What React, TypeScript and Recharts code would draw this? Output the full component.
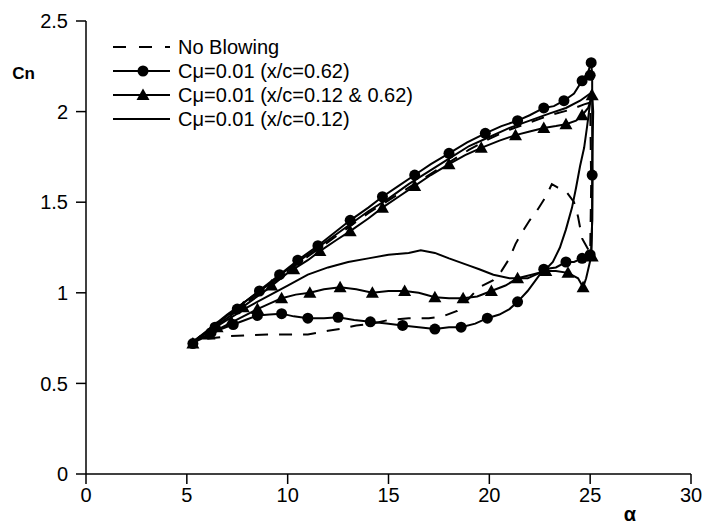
import { ComposedChart, Line, XAxis, YAxis } from 'recharts';

const xTicks = [0, 5, 10, 15, 20, 25, 30];
const yTicks = [0, 0.5, 1, 1.5, 2, 2.5];
const seriesNames = [
  'No Blowing',
  'Cμ=0.01 (x/c=0.62)',
  'Cμ=0.01 (x/c=0.12 & 0.62)',
  'Cμ=0.01 (x/c=0.12)',
];

// No Blowing (dashed) – upstroke then downstroke
const noBlowA = [5.2, 6.0, 7.0, 8.0, 9.0, 10.0, 11.0, 12.0, 13.0, 14.0, 15.0, 16.0, 17.0, 18.0, 19.0, 20.0, 21.0, 22.0, 23.0, 24.0, 24.7, 25.0,
  25.05, 25.0, 24.6, 24.4, 24.2, 23.8, 23.4, 23.1, 22.8, 22.4, 22.0, 21.6, 21.3, 21.0, 20.6, 20.2, 19.5, 19.0, 18.4, 17.7, 17.0, 16.0, 15.0, 14.2, 13.4, 12.6, 12.0, 11.0, 10.0, 9.0, 8.0, 7.0, 6.3, 5.6, 5.2];
const noBlowCn = [0.72, 0.79, 0.87, 0.95, 1.03, 1.12, 1.2, 1.28, 1.36, 1.44, 1.51, 1.58, 1.65, 1.72, 1.79, 1.85, 1.9, 1.94, 1.98, 2.01, 2.04, 2.05,
  1.6, 1.22, 1.3, 1.42, 1.5, 1.56, 1.58, 1.6, 1.53, 1.46, 1.4, 1.33, 1.27, 1.19, 1.12, 1.07, 1.03, 0.97, 0.9, 0.87, 0.86, 0.86, 0.85, 0.83, 0.82, 0.8, 0.79, 0.77, 0.77, 0.77, 0.765, 0.76, 0.75, 0.74, 0.72];

// Cmu=0.01 x/c=0.62 (circles)
const c62A = [5.2, 5.8, 6.5, 7.3, 8.0, 8.8, 9.6, 10.5, 11.5, 12.3, 13.1, 14.0, 14.7, 15.5, 16.3, 17.1, 18.0, 18.9, 19.8, 20.6, 21.4, 22.0, 22.7, 23.2, 23.7, 24.2, 24.6, 24.9, 25.05,
  25.1, 25.1, 25.12, 25.1, 25.05, 24.9, 24.6, 24.2, 23.8, 23.3, 22.7, 22.3, 21.9, 21.4, 21.0, 20.5, 19.9, 19.3, 18.6, 18.0, 17.3, 16.5, 15.7, 14.9, 14.1, 13.3, 12.5, 11.8, 11.0, 10.3, 9.7, 9.1, 8.5, 7.9, 7.3, 6.7, 6.1, 5.5, 5.2];
const c62Cn = [0.72, 0.77, 0.83, 0.9, 0.96, 1.03, 1.1, 1.18, 1.26, 1.33, 1.4, 1.47, 1.53, 1.59, 1.65, 1.71, 1.77, 1.83, 1.88, 1.92, 1.95, 1.98, 2.02, 2.03, 2.06, 2.1, 2.17, 2.22, 2.27,
  2.2, 1.9, 1.65, 1.4, 1.22, 1.2, 1.19, 1.17, 1.17, 1.14, 1.13, 1.07, 1.01, 0.95, 0.91, 0.88, 0.86, 0.83, 0.81, 0.81, 0.8, 0.81, 0.82, 0.83, 0.84, 0.85, 0.865, 0.86, 0.86, 0.87, 0.885, 0.88, 0.875, 0.85, 0.825, 0.8, 0.77, 0.74, 0.72];
const c62MarkA = [5.3, 6.4, 7.5, 8.6, 9.6, 10.5, 11.5, 13.1, 14.7, 16.3, 18.0, 19.8, 21.4, 22.7, 23.7, 24.6, 25.0, 25.05,
  25.1, 25.0, 24.6, 23.8, 22.7, 21.4, 19.9, 18.6, 17.3, 15.7, 14.1, 12.5, 11.0, 9.7, 8.5, 7.3, 6.2];
const c62MarkCn = [0.72, 0.81, 0.91, 1.01, 1.1, 1.18, 1.26, 1.4, 1.53, 1.65, 1.77, 1.88, 1.95, 2.02, 2.06, 2.17, 2.2, 2.27,
  1.65, 1.21, 1.19, 1.17, 1.13, 0.95, 0.86, 0.81, 0.8, 0.82, 0.84, 0.865, 0.86, 0.885, 0.875, 0.825, 0.78];

// Cmu=0.01 x/c=0.12 & 0.62 (triangles)
const c1262A = [5.2, 6.0, 7.0, 8.0, 9.0, 10.0, 11.0, 11.6, 12.4, 13.1, 14.0, 14.7, 15.5, 16.3, 17.1, 18.0, 18.8, 19.6, 20.5, 21.3, 22.0, 22.7, 23.3, 23.8, 24.3, 24.6, 24.9, 25.1,
  25.15, 25.1, 25.1, 25.05, 24.8, 24.65, 24.4, 23.9, 23.3, 22.8, 22.1, 21.4, 20.8, 20.1, 19.4, 18.7, 18.0, 17.3, 16.5, 15.8, 15.0, 14.2, 13.4, 12.6, 11.8, 11.1, 10.4, 9.7, 9.1, 8.5, 7.8, 7.1, 6.4, 5.8, 5.2];
const c1262Cn = [0.72, 0.78, 0.86, 0.94, 1.02, 1.11, 1.18, 1.23, 1.29, 1.34, 1.41, 1.47, 1.53, 1.59, 1.65, 1.71, 1.76, 1.8, 1.84, 1.87, 1.89, 1.91, 1.92, 1.93, 1.95, 1.98, 2.02, 2.09,
  2.0, 1.7, 1.4, 1.2, 1.08, 1.03, 1.08, 1.11, 1.12, 1.12, 1.1, 1.08, 1.04, 1.01, 0.98, 0.97, 0.97, 0.975, 1.0, 1.01, 1.01, 1.0, 1.02, 1.03, 1.02, 1.0, 0.99, 0.97, 0.94, 0.91, 0.87, 0.83, 0.79, 0.75, 0.72];
const c1262MarkA = [5.3, 6.5, 7.8, 9.2, 10.3, 11.6, 13.1, 14.7, 16.3, 18.0, 19.6, 21.3, 22.7, 23.8, 24.6, 25.1,
  25.1, 24.65, 23.9, 22.8, 21.4, 20.1, 18.7, 17.3, 15.8, 14.2, 12.6, 11.1, 9.7, 8.5, 7.2, 6.1];
const c1262MarkCn = [0.72, 0.81, 0.92, 1.04, 1.13, 1.23, 1.34, 1.47, 1.59, 1.71, 1.8, 1.87, 1.91, 1.93, 1.98, 2.09,
  1.2, 1.03, 1.11, 1.12, 1.08, 1.01, 0.97, 0.975, 1.01, 1.0, 1.03, 1.0, 0.97, 0.91, 0.84, 0.77];

// Cmu=0.01 x/c=0.12 (plain line)
const c12A = [5.2, 6.0, 7.0, 8.0, 9.0, 10.0, 11.0, 12.0, 13.0, 14.0, 15.0, 16.0, 17.0, 18.0, 19.0, 20.0, 21.0, 22.0, 23.0, 23.8, 24.5, 25.0, 25.1,
  25.0, 24.85, 24.7, 24.5, 24.3, 24.1, 23.8, 23.5, 23.15, 22.8, 22.5, 21.9, 21.0, 20.2, 19.5, 19.0, 18.0, 17.3, 16.6, 16.0, 15.0, 14.0, 13.0, 12.0, 11.0, 10.0, 9.0, 8.0, 7.0, 6.0, 5.2];
const c12Cn = [0.72, 0.79, 0.88, 0.96, 1.04, 1.13, 1.21, 1.29, 1.37, 1.45, 1.52, 1.6, 1.67, 1.74, 1.81, 1.86, 1.91, 1.95, 1.99, 2.02, 2.06, 2.1, 2.12,
  2.05, 1.92, 1.8, 1.7, 1.58, 1.47, 1.35, 1.25, 1.17, 1.13, 1.11, 1.08, 1.08, 1.1, 1.13, 1.15, 1.19, 1.22, 1.235, 1.22, 1.21, 1.19, 1.17, 1.14, 1.1, 1.04, 0.98, 0.92, 0.85, 0.78, 0.72];

const pts = (a: number[], c: number[]) => a.map((x, i) => ({ a: x, cn: c[i] }));

const Circle = (p: any) =>
  p.cx == null ? null : <circle key={p.key} cx={p.cx} cy={p.cy} r={5.5} fill="#000" />;
const Tri = (p: any) =>
  p.cx == null ? null : (
    <path key={p.key} d={`M${p.cx},${p.cy - 6.5}L${p.cx + 6.5},${p.cy + 5}L${p.cx - 6.5},${p.cy + 5}Z`} fill="#000" />
  );

const font = '"Liberation Sans", Arial, sans-serif';

export default function App() {
  const rowY = (i: number) => 47 + i * 24;
  return (
    <div style={{ position: 'absolute', left: 0, top: 0, width: 704, height: 527, background: '#fff' }}>
      <ComposedChart width={704} height={527} margin={{ top: 21, right: 13, bottom: 23, left: 0 }}>
        <XAxis
          type="number"
          dataKey="a"
          domain={[0, 30]}
          ticks={xTicks}
          allowDataOverflow
          height={30}
          tickSize={10}
          tickMargin={4}
          axisLine={{ stroke: '#000', strokeWidth: 1.5 }}
          tickLine={{ stroke: '#000', strokeWidth: 1.5 }}
          tick={{ fill: '#000', fontSize: 20, fontFamily: font }}
        />
        <YAxis
          type="number"
          domain={[0, 2.5]}
          ticks={yTicks}
          width={86}
          tickSize={10}
          tickMargin={8}
          axisLine={{ stroke: '#000', strokeWidth: 1.5 }}
          tickLine={{ stroke: '#000', strokeWidth: 1.5 }}
          tick={{ fill: '#000', fontSize: 20, fontFamily: font }}
        />
        <Line data={pts(noBlowA, noBlowCn)} dataKey="cn" type="linear" stroke="#000" strokeWidth={2} strokeDasharray="13 11" dot={false} isAnimationActive={false} />
        <Line data={pts(c12A, c12Cn)} dataKey="cn" type="linear" stroke="#000" strokeWidth={2} dot={false} isAnimationActive={false} />
        <Line data={pts(c1262A, c1262Cn)} dataKey="cn" type="linear" stroke="#000" strokeWidth={2} dot={false} isAnimationActive={false} />
        <Line data={pts(c62A, c62Cn)} dataKey="cn" type="linear" stroke="#000" strokeWidth={2} dot={false} isAnimationActive={false} />
        <Line data={pts(c1262MarkA, c1262MarkCn)} dataKey="cn" stroke="none" dot={<Tri />} activeDot={false} isAnimationActive={false} />
        <Line data={pts(c62MarkA, c62MarkCn)} dataKey="cn" stroke="none" dot={<Circle />} activeDot={false} isAnimationActive={false} />
      </ComposedChart>
      <svg width={704} height={527} style={{ position: 'absolute', left: 0, top: 0, pointerEvents: 'none' }}>
        <text x={23.5} y={79} textAnchor="middle" fontFamily={font} fontSize={17} fontWeight="bold">Cn</text>
        <text x={630} y={521} textAnchor="middle" fontFamily={font} fontSize={20} fontWeight="bold">α</text>
        {seriesNames.map((name, i) => {
          const y = rowY(i);
          return (
            <g key={name}>
              <line x1={113} x2={170} y1={y} y2={y} stroke="#000" strokeWidth={2} strokeDasharray={i === 0 ? '13 13' : undefined} />
              {i === 1 && <circle cx={143} cy={y} r={5.5} fill="#000" />}
              {i === 2 && <path d={`M143,${y - 6.5}L149.5,${y + 5}L136.5,${y + 5}Z`} fill="#000" />}
              <text x={178} y={y + 7} fontFamily={font} fontSize={20} fill="#000">{name}</text>
            </g>
          );
        })}
      </svg>
    </div>
  );
}
